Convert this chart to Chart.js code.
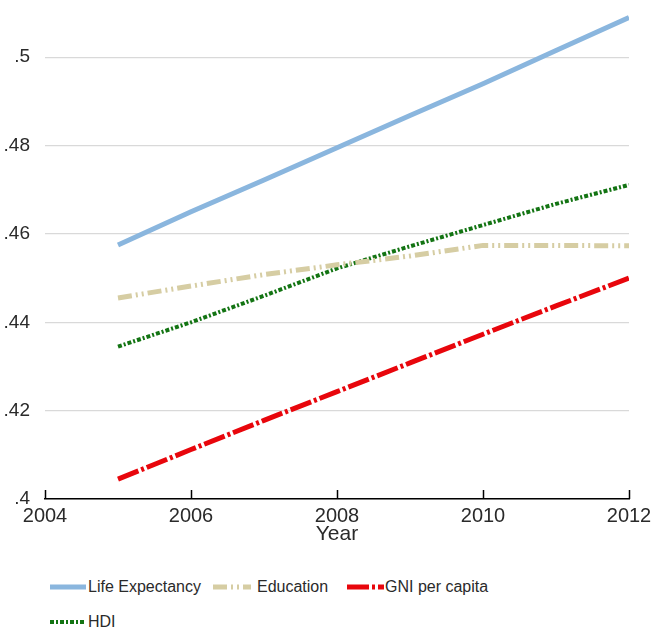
<!DOCTYPE html>
<html>
<head>
<meta charset="utf-8">
<script src="https://cdn.jsdelivr.net/npm/chart.js@4.4.1/dist/chart.umd.min.js"></script>
<style>
    body { margin: 0; background: #fff; font-family: "Liberation Sans", Arial, sans-serif; }
    #wrap { position: relative; width: 653px; height: 635px; overflow: hidden; }
    #chartBox { position: absolute; left: 0; top: 0; width: 653px; height: 560px; }
    .lg-swatch { position: absolute; }
    .lg-text { position: absolute; font-size: 16px; line-height: 20px; color: #2a2a2a; white-space: nowrap; }
</style>
</head>
<body>
<div id="wrap">
    <div id="chartBox"><canvas id="hdiChart"></canvas></div>
    <div id="legend"></div>
</div>
<script>
// Data
const years = [2005, 2006, 2007, 2008, 2009, 2010, 2011, 2012];
const lifeExpectancy = [0.4575, 0.4650, 0.4722, 0.4795, 0.4868, 0.4940, 0.5015, 0.5090];
const education      = [0.4455, 0.4482, 0.4508, 0.4530, 0.4550, 0.4574, 0.4574, 0.4573];
const gniPerCapita   = [0.4045, 0.4112, 0.4178, 0.4243, 0.4308, 0.4373, 0.4437, 0.4500];
const hdi            = [0.4345, 0.4400, 0.4460, 0.4522, 0.4572, 0.4620, 0.4668, 0.4711];

const xTicks = [2004, 2006, 2008, 2010, 2012];
const yTicks = [0.40, 0.42, 0.44, 0.46, 0.48, 0.50];
const seriesNames = ['Life Expectancy', 'Education', 'GNI per capita', 'HDI'];

// Styles
const seriesStyle = [
    { color: '#8ab6de', width: 5, dash: [] },
    { color: '#d6cda3', width: 5, dash: [14, 4, 2, 4, 2, 4] },
    { color: '#e8060c', width: 5, dash: [22, 3, 3, 3] },
    { color: '#137413', width: 4, dash: [4, 2, 2, 2] }
];
const legendLayout = [
    { sx: 50,  tx: 88,  y: 587, w: 36 },
    { sx: 213, tx: 257, y: 587, w: 38 },
    { sx: 347, tx: 385, y: 587, w: 37 },
    { sx: 50,  tx: 88,  y: 622, w: 36 }
];

Chart.defaults.font.family = '"Liberation Sans", Arial, sans-serif';
Chart.defaults.color = '#2a2a2a';

const toPoints = vals => years.map((yr, i) => ({ x: yr, y: vals[i] }));
const allSeries = [lifeExpectancy, education, gniPerCapita, hdi];

const datasets = allSeries.map((vals, i) => ({
    label: seriesNames[i],
    data: toPoints(vals),
    borderColor: seriesStyle[i].color,
    borderWidth: seriesStyle[i].width,
    borderDash: seriesStyle[i].dash,
    borderCapStyle: 'butt',
    pointRadius: 0,
    tension: 0,
    fill: false
}));

// draw tick marks pointing up into the plot, like the original
const innerTicks = {
    id: 'innerTicks',
    afterDatasetsDraw(chart) {
        const { ctx, chartArea, scales } = chart;
        ctx.save();
        ctx.strokeStyle = '#000';
        ctx.lineWidth = 1.5;
        xTicks.forEach(v => {
            const x = Math.round(scales.x.getPixelForValue(v)) + 0.5;
            ctx.beginPath();
            ctx.moveTo(x, chartArea.bottom);
            ctx.lineTo(x, chartArea.bottom - 9);
            ctx.stroke();
        });
        ctx.restore();
    }
};

new Chart(document.getElementById('hdiChart'), {
    type: 'line',
    data: { datasets: datasets },
    options: {
        responsive: true,
        maintainAspectRatio: false,
        animation: false,
        layout: { padding: { top: 13, right: 24, bottom: 13, left: 0 } },
        plugins: { legend: { display: false }, tooltip: { enabled: false } },
        scales: {
            x: {
                type: 'linear',
                min: 2004,
                max: 2012,
                afterBuildTicks: s => { s.ticks = xTicks.map(v => ({ value: v })); },
                afterFit: s => { s.height = 48; s.paddingLeft = 0; s.paddingRight = 0; },
                grid: { display: false, drawTicks: false },
                border: { display: true, color: '#000', width: 1.5 },
                ticks: { padding: 5, font: { size: 20 }, maxRotation: 0, callback: v => String(v) },
                title: { display: true, text: 'Year', font: { size: 21 }, padding: 0 }
            },
            y: {
                min: 0.4,
                max: 0.51,
                afterBuildTicks: s => { s.ticks = yTicks.map(v => ({ value: v })); },
                afterFit: s => { s.width = 45; s.paddingTop = 0; s.paddingBottom = 0; },
                grid: { color: '#d9d9d9', lineWidth: 1.3, drawTicks: false },
                border: { display: false },
                ticks: {
                    padding: 15,
                    font: { size: 19 },
                    callback: v => v.toFixed(2).replace(/^0/, '').replace(/0$/, '')
                }
            }
        }
    },
    plugins: [innerTicks]
});

// 4. Legend (HTML, below the chart)
const legendEl = document.getElementById('legend');
seriesNames.forEach((name, i) => {
    const st = seriesStyle[i], pos = legendLayout[i];
    const svg = document.createElementNS('http://www.w3.org/2000/svg', 'svg');
    svg.setAttribute('class', 'lg-swatch');
    svg.setAttribute('width', pos.w);
    svg.setAttribute('height', 10);
    svg.style.left = pos.sx + 'px';
    svg.style.top = (pos.y - 5) + 'px';
    const line = document.createElementNS('http://www.w3.org/2000/svg', 'line');
    line.setAttribute('x1', 0); line.setAttribute('x2', pos.w);
    line.setAttribute('y1', 5); line.setAttribute('y2', 5);
    line.setAttribute('stroke', st.color);
    line.setAttribute('stroke-width', st.width);
    if (st.dash.length) line.setAttribute('stroke-dasharray', st.dash.join(' '));
    svg.appendChild(line);
    legendEl.appendChild(svg);

    const txt = document.createElement('div');
    txt.className = 'lg-text';
    txt.textContent = name;
    txt.style.left = pos.tx + 'px';
    txt.style.top = (pos.y - 10) + 'px';
    legendEl.appendChild(txt);
});
</script>
</body>
</html>
